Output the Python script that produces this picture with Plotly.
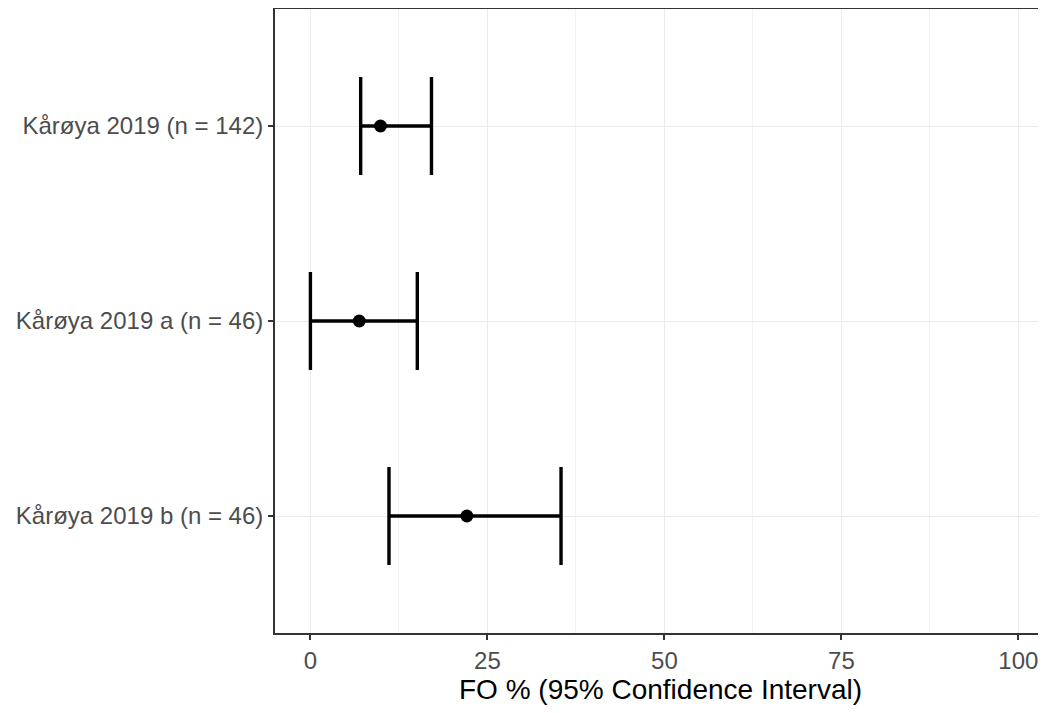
import plotly.graph_objects as go

groups = ["Kårøya 2019 (n = 142)", "Kårøya 2019 a (n = 46)", "Kårøya 2019 b (n = 46)"]
fo = [9.9, 6.9, 22.1]
ci_low = [7.1, 0.0, 11.1]
ci_high = [17.1, 15.1, 35.4]
x_ticks = [0, 25, 50, 75, 100]
x_title = "FO % (95% Confidence Interval)"

font_family = "Liberation Sans, Arial, sans-serif"

fig = go.Figure()
fig.add_trace(go.Scatter(
    x=fo,
    y=groups,
    mode="markers",
    marker=dict(color="black", size=13, symbol="circle"),
    error_x=dict(
        type="data",
        symmetric=False,
        array=[h - v for h, v in zip(ci_high, fo)],
        arrayminus=[v - l for v, l in zip(fo, ci_low)],
        color="black",
        thickness=3.4,
        width=49,
    ),
    showlegend=False,
    hoverinfo="x+y",
))

fig.update_layout(
    width=1038,
    height=697,
    margin=dict(l=267, r=0, t=1, b=72),
    paper_bgcolor="white",
    plot_bgcolor="white",
    font=dict(family=font_family, color="#4D4D4D", size=20),
    xaxis=dict(
        range=[-5, 103.9],
        tickmode="array",
        tickvals=x_ticks,
        ticktext=[str(t) for t in x_ticks],
        showgrid=True,
        gridcolor="#EBEBEB",
        gridwidth=1.2,
        minor=dict(showgrid=True, gridcolor="#F2F2F2", gridwidth=1, dtick=12.5, tick0=0),
        zeroline=False,
        ticks="outside",
        ticklen=5,
        tickwidth=1.5,
        tickcolor="#333333",
        tickfont=dict(size=24, color="#4D4D4D"),
        title=dict(text=x_title, font=dict(size=28, color="black"), standoff=5),
        automargin=False,
        showline=True,
        linecolor="#333333",
        linewidth=1.8,
        mirror=True,
    ),
    yaxis=dict(
        type="category",
        categoryorder="array",
        categoryarray=groups[::-1],
        range=[-0.6, 2.6],
        showgrid=True,
        gridcolor="#EBEBEB",
        gridwidth=1.2,
        zeroline=False,
        ticks="outside",
        ticklen=5,
        tickwidth=1.5,
        tickcolor="#333333",
        tickfont=dict(size=24, color="#4D4D4D"),
        automargin=False,
        showline=True,
        linecolor="#333333",
        linewidth=1.8,
        mirror=False,
    ),
)

fig.write_html("out.html")
